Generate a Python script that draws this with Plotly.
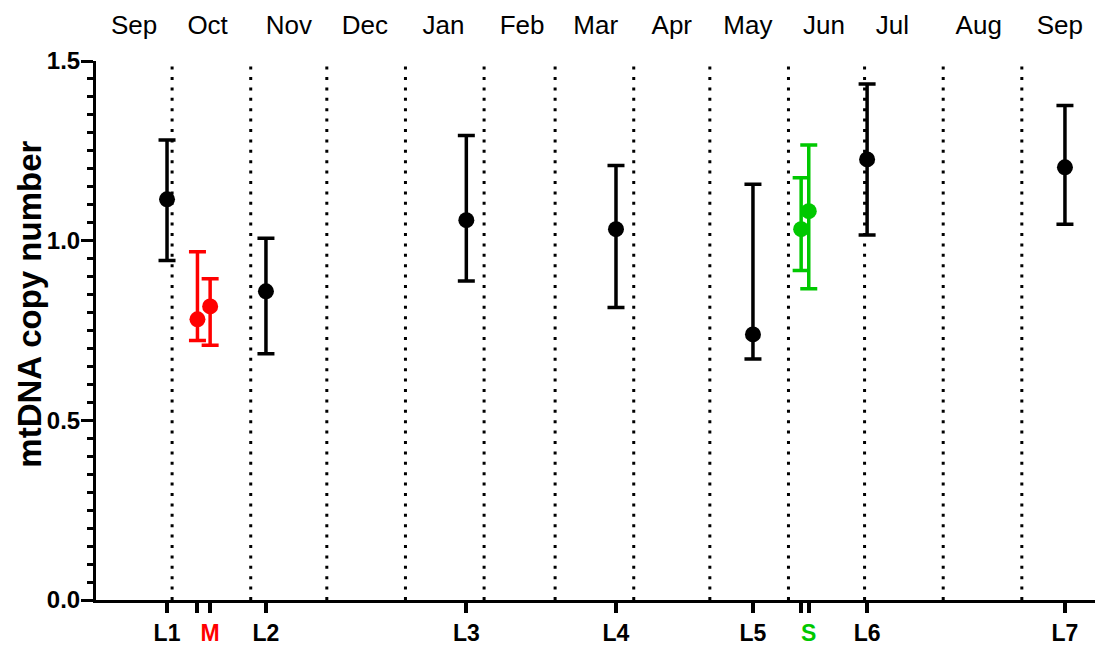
import plotly.graph_objects as go

# ---- data ----
dates_L = ["2010-09-29", "2010-11-07", "2011-01-25", "2011-03-25", "2011-05-18", "2011-07-02", "2011-09-18"]
labels_L = ["L1", "L2", "L3", "L4", "L5", "L6", "L7"]
mean_L = [1.115, 0.859, 1.057, 1.032, 0.739, 1.226, 1.204]
upper_L = [1.280, 1.007, 1.293, 1.209, 1.157, 1.436, 1.376]
lower_L = [0.945, 0.685, 0.888, 0.814, 0.671, 1.016, 1.046]

dates_M = ["2010-10-11", "2010-10-16"]
mean_M = [0.781, 0.817]
upper_M = [0.969, 0.894]
lower_M = [0.722, 0.709]

dates_S = ["2011-06-06", "2011-06-09"]
mean_S = [1.032, 1.082]
upper_S = [1.175, 1.266]
lower_S = [0.917, 0.866]

month_boundaries = ["2010-10-01", "2010-11-01", "2010-12-01", "2011-01-01", "2011-02-01",
                    "2011-03-01", "2011-04-01", "2011-05-01", "2011-06-01", "2011-07-01",
                    "2011-08-01", "2011-09-01", "2011-10-01"]
month_label_dates = ["2010-09-16", "2010-10-15", "2010-11-16", "2010-12-16", "2011-01-16",
                     "2011-02-16", "2011-03-17", "2011-04-16", "2011-05-16", "2011-06-15",
                     "2011-07-12", "2011-08-15", "2011-09-16"]
month_labels = ["Sep", "Oct", "Nov", "Dec", "Jan", "Feb", "Mar", "Apr", "May", "Jun",
                "Jul", "Aug", "Sep"]

x_range = ["2010-09-01", "2011-10-03"]

BLACK = "#000000"
RED = "#FF0000"
GREEN = "#00C800"
FONT = "Liberation Sans, Arial, sans-serif"

fig = go.Figure()


def add_group(dates, mean, upper, lower, color):
    fig.add_trace(go.Scatter(
        x=dates, y=mean, mode="markers",
        marker=dict(size=16, color=color),
        error_y=dict(type="data", symmetric=False,
                     array=[u - m for u, m in zip(upper, mean)],
                     arrayminus=[m - l for m, l in zip(mean, lower)],
                     color=color, thickness=3.5, width=8.5),
        showlegend=False, xaxis="x", yaxis="y",
    ))


add_group(dates_L, mean_L, upper_L, lower_L, BLACK)
add_group(dates_M, mean_M, upper_M, lower_M, RED)
add_group(dates_S, mean_S, upper_S, lower_S, GREEN)

# invisible trace to anchor top axis
fig.add_trace(go.Scatter(x=month_label_dates, y=[None] * len(month_label_dates),
                         mode="markers", xaxis="x2", yaxis="y", showlegend=False,
                         hoverinfo="skip"))

# month divider lines
for d in month_boundaries:
    fig.add_shape(type="line", xref="x", yref="paper", x0=d, x1=d, y0=0, y1=1,
                  line=dict(color=BLACK, width=3, dash="3px,7.4px"), layer="below")

# bottom tick values and labels
tick_vals = []
tick_text = []
for d, t in zip(dates_L, labels_L):
    tick_vals.append(d)
    tick_text.append("<b>%s</b>" % t)
tick_vals += dates_M
tick_text += ["", '<b><span style="color:%s">M</span></b>' % RED]
tick_vals += dates_S
tick_text += ["", '<b><span style="color:%s">S</span></b>' % GREEN]

# y-axis title placed as an annotation (sits slightly above the plot centre)
fig.add_annotation(text="<b>mtDNA copy number</b>", textangle=-90,
                   xref="paper", yref="paper", x=0, y=0.548, xshift=-66,
                   xanchor="center", yanchor="middle", showarrow=False,
                   font=dict(size=33, family=FONT, color=BLACK))

fig.update_layout(
    width=1095, height=638,
    margin=dict(l=88, r=0, t=53, b=43),
    paper_bgcolor="white", plot_bgcolor="white",
    font=dict(family=FONT, color=BLACK),
    xaxis=dict(
        type="date", range=x_range, showgrid=False, zeroline=False,
        showline=True, linecolor=BLACK, linewidth=3,
        tickmode="array", tickvals=tick_vals, ticktext=tick_text,
        ticks="outside", ticklen=10, tickwidth=3.5, tickcolor=BLACK,
        tickfont=dict(size=23, family=FONT, color=BLACK),
    ),
    xaxis2=dict(
        type="date", range=x_range, overlaying="x", side="top", anchor="y",
        showgrid=False, zeroline=False, showline=False,
        tickmode="array", tickvals=month_label_dates, ticktext=month_labels,
        ticks="outside", ticklen=16, tickcolor="rgba(0,0,0,0)",
        tickfont=dict(size=26, family=FONT, color=BLACK),
    ),
    yaxis=dict(
        range=[0, 1.5], showgrid=False, zeroline=False,
        showline=True, linecolor=BLACK, linewidth=3,
        tickmode="array", tickvals=[0, 0.5, 1.0, 1.5],
        ticktext=["<b>0.0</b>", "<b>0.5</b>", "<b>1.0</b>", "<b>1.5</b>"],
        ticks="outside", ticklen=12, tickwidth=2.5, tickcolor=BLACK,
        tickfont=dict(size=24, family=FONT, color=BLACK),
        ticklabelstandoff=-4,
        minor=dict(tickmode="linear", tick0=0, dtick=0.05, ticks="outside",
                   ticklen=6, tickwidth=2.5, tickcolor=BLACK),
    ),
)

fig.write_html("out.html")
